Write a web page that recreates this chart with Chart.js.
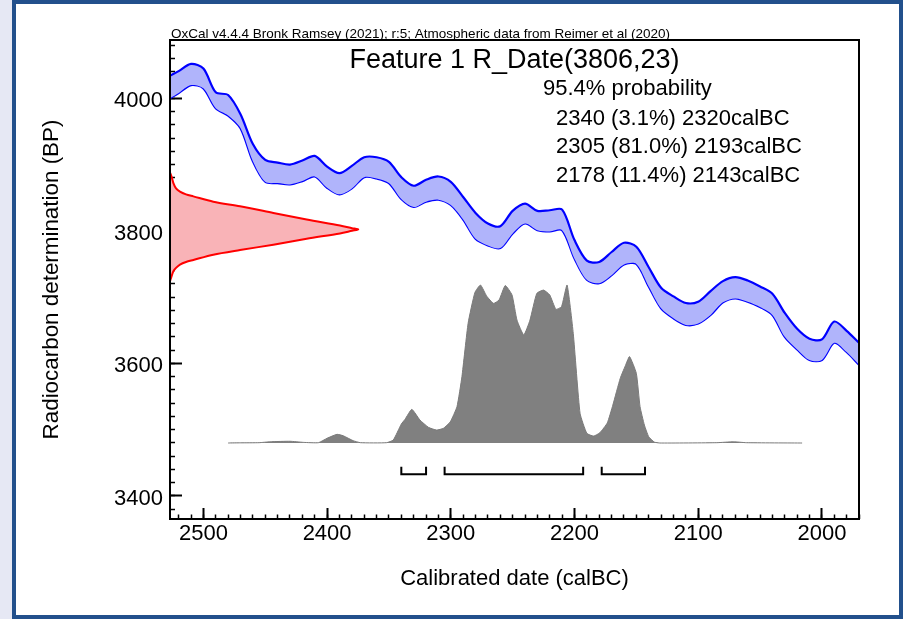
<!DOCTYPE html>
<html>
<head>
<meta charset="utf-8">
<script src="https://cdn.jsdelivr.net/npm/chart.js@4.4.1/dist/chart.umd.min.js"></script>
<style>
  html, body { margin: 0; padding: 0; width: 903px; height: 619px; overflow: hidden; background: #e6e8f4; }
  #frame { position: absolute; left: 12px; top: 0; width: 891px; height: 619px; box-sizing: border-box; border: 4px solid #22508c; background: #fff; }
  #c { position: absolute; left: 0; top: 0; }
</style>
</head>
<body>
<div id="frame"></div>
<canvas id="c" width="903" height="619"></canvas>
<script>
// calibration curve band (IntCal20), calBC vs BP
const calYears = [2527, 2520, 2510, 2500, 2490, 2480, 2470, 2460, 2450, 2440, 2430, 2420, 2410, 2400, 2390, 2380, 2370, 2360, 2350, 2340,
  2330, 2320, 2310, 2300, 2290, 2280, 2270, 2260, 2250, 2240, 2230, 2220, 2210, 2200, 2190, 2180, 2170, 2160, 2150, 2140,
  2130, 2120, 2110, 2100, 2090, 2080, 2070, 2060, 2050, 2040, 2030, 2020, 2010, 2000, 1990, 1980, 1970];
const curveUpper = [4034, 4041, 4052, 4045, 4009, 4005, 3976, 3931, 3907, 3903, 3900, 3906, 3913, 3897, 3887, 3898, 3911, 3911, 3904, 3881,
  3868, 3877, 3882, 3874, 3851, 3827, 3811, 3807, 3830, 3841, 3830, 3831, 3832, 3786, 3755, 3753, 3768, 3782, 3776, 3745,
  3714, 3701, 3691, 3693, 3709, 3724, 3730, 3725, 3716, 3705, 3676, 3652, 3637, 3636, 3663, 3649, 3631];
const curveLower = [4000, 4008, 4020, 4015, 3985, 3974, 3955, 3905, 3874, 3872, 3870, 3875, 3882, 3865, 3855, 3864, 3881, 3879, 3872, 3848,
  3836, 3844, 3847, 3839, 3817, 3788, 3778, 3774, 3796, 3811, 3801, 3799, 3801, 3758, 3726, 3721, 3733, 3749, 3750, 3716,
  3683, 3668, 3658, 3660, 3673, 3692, 3698, 3693, 3685, 3673, 3640, 3621, 3605, 3605, 3631, 3617, 3598];

// radiocarbon measurement (red, on the BP axis)
const rcMean = 3806;
const rcSigma = 23;
const rcBP = [3888, 3881, 3872, 3864, 3859, 3855, 3852, 3844, 3837, 3827, 3817, 3808, 3804, 3802,
  3800, 3796, 3788, 3779, 3771, 3764, 3756, 3753, 3749, 3744, 3739, 3732, 3724];
const rcDensity = [0, 0.009, 0.018, 0.032, 0.053, 0.085, 0.124, 0.23, 0.372, 0.549, 0.726, 0.903, 0.967, 1,
  0.967, 0.903, 0.726, 0.549, 0.372, 0.23, 0.124, 0.085, 0.053, 0.032, 0.018, 0.009, 0];

// calibrated probability (grey)
const postYears = [2480, 2470, 2455, 2446, 2430, 2419, 2407, 2400, 2392, 2387, 2379, 2373, 2352, 2346.5, 2340, 2337, 2331.5, 2325,
  2318, 2311.5, 2306, 2300.5, 2295, 2291, 2286, 2280.5, 2276, 2271, 2265.5, 2261, 2256, 2250.5, 2246.5, 2241, 2236,
  2230.5, 2225, 2220, 2215, 2210.5, 2206, 2201, 2195.5, 2190, 2184.5, 2179.5, 2173.5, 2169, 2163, 2159, 2155.5, 2150,
  2147, 2143.5, 2140, 2135.5, 2131, 2085, 2071.5, 2061, 2016];
const postDensity = [0, 0.001, 0.002, 0.008, 0.011, 0.004, 0.002, 0.03, 0.055, 0.046, 0.015, 0.002, 0.002, 0.019, 0.12, 0.15, 0.213, 0.146,
  0.099, 0.082, 0.093, 0.133, 0.23, 0.42, 0.758, 0.953, 1, 0.93, 0.884, 0.905, 0.997, 0.937, 0.778, 0.684, 0.778,
  0.947, 0.968, 0.937, 0.846, 0.863, 1, 0.694, 0.188, 0.061, 0.044, 0.065, 0.127, 0.24, 0.41, 0.487, 0.547, 0.441,
  0.23, 0.114, 0.04, 0.006, 0, 0.002, 0.008, 0.002, 0];

// 95.4% ranges
const rangeStart = [2340, 2305, 2178];
const rangeEnd = [2320, 2193, 2143];
const rangePct = [3.1, 81.0, 11.4];

const xTickValues = [2500, 2400, 2300, 2200, 2100, 2000];
const yTickValues = [4000, 3800, 3600, 3400];

const FONT = '"Liberation Sans", Arial, Helvetica, sans-serif';
const header = 'OxCal v4.4.4 Bronk Ramsey (2021); r:5; Atmospheric data from Reimer et al (2020)';
const title = `Feature 1 R_Date(${rcMean},${rcSigma})`;

const pairs = (xs, ys) => xs.map((x, i) => ({ x: x, y: ys[i] }));

const bracketPts = [];
rangeStart.forEach((s, i) => {
  const e = rangeEnd[i];
  bracketPts.push({ x: s, y: -0.15 }, { x: s, y: -0.197 }, { x: e, y: -0.197 }, { x: e, y: -0.15 }, { x: e, y: null });
});

function everyStep(from, to, step) {
  const out = [];
  for (let v = from; v <= to; v += step) out.push({ value: v });
  return out;
}

const tickGrid = (len, w) => ({ drawOnChartArea: false, drawTicks: true, tickLength: len, tickWidth: w, tickColor: '#000' });

const decor = {
  id: 'decor',
  afterDraw(chart) {
    const { ctx, chartArea: a } = chart;
    ctx.save();
    ctx.strokeStyle = '#000';
    ctx.lineWidth = 2;
    ctx.strokeRect(a.left, a.top, a.right - a.left, a.bottom - a.top);
    ctx.fillStyle = '#000';
    ctx.textBaseline = 'alphabetic';
    ctx.textAlign = 'left';
    ctx.font = `13.5px ${FONT}`;
    ctx.fillText(header, a.left + 1, a.top - 2.5);
    ctx.textAlign = 'center';
    ctx.font = `27px ${FONT}`;
    ctx.fillText(title, (a.left + a.right) / 2, a.top + 28);
    ctx.textAlign = 'left';
    ctx.font = `22px ${FONT}`;
    ctx.fillText('95.4% probability', 543, 95);
    rangeStart.forEach((s, i) => {
      ctx.fillText(`${s} (${rangePct[i].toFixed(1)}%) ${rangeEnd[i]}calBC`, 556, 124.5 + i * 28.8);
    });
    ctx.restore();
  }
};

new Chart(document.getElementById('c'), {
  type: 'line',
  data: {
    datasets: [
      {
        data: pairs(calYears, curveUpper),
        borderColor: '#0000ff', borderWidth: 2.2, backgroundColor: '#b0b4fb',
        fill: '+1', pointRadius: 0, tension: 0.3
      },
      {
        data: pairs(calYears, curveLower),
        borderColor: '#0000ff', borderWidth: 2.2,
        fill: false, pointRadius: 0, tension: 0.3
      },
      {
        data: pairs(postYears, postDensity),
        yAxisID: 'yp',
        borderColor: '#7a7a7a', borderWidth: 1, backgroundColor: '#808080',
        fill: 'origin', pointRadius: 0, tension: 0.15
      },
      {
        data: rcDensity.map((d, i) => ({ x: d, y: rcBP[i] })),
        indexAxis: 'y', xAxisID: 'xr', yAxisID: 'y',
        borderColor: '#ff0000', borderWidth: 2, backgroundColor: '#f9b3b7',
        fill: 'origin', pointRadius: 0, tension: 0.3
      },
      {
        data: bracketPts,
        yAxisID: 'yp',
        borderColor: '#000', borderWidth: 2, fill: false, pointRadius: 0, tension: 0, spanGaps: false
      }
    ]
  },
  options: {
    responsive: false,
    devicePixelRatio: 1,
    animation: false,
    events: [],
    layout: { padding: { left: 0, top: 40, right: 44, bottom: 0 } },
    plugins: { legend: { display: false }, tooltip: { enabled: false } },
    scales: {
      x: {
        type: 'linear', position: 'bottom', reverse: true, min: 1970, max: 2527, weight: 1, z: 1,
        afterFit: s => { s.height = 100; },
        afterBuildTicks: s => { s.ticks = xTickValues.map(v => ({ value: v })); },
        grid: tickGrid(-11, 2),
        border: { display: false },
        ticks: { autoSkip: false, maxRotation: 0, padding: 12.5, color: '#000', font: { family: FONT, size: 22 }, callback: v => String(v) },
        title: { display: true, text: 'Calibrated date (calBC)', color: '#000', font: { family: FONT, size: 22 }, padding: { top: 0, bottom: 27 } }
      },
      x2: {
        type: 'linear', position: 'bottom', reverse: true, min: 1970, max: 2527, weight: 0, z: 1,
        afterFit: s => { s.height = 0; },
        afterBuildTicks: s => { s.ticks = everyStep(1970, 2520, 10); },
        grid: tickGrid(-4.5, 1.5),
        border: { display: false },
        ticks: { display: false, autoSkip: false }
      },
      y: {
        type: 'linear', position: 'left', min: 3365, max: 4088, weight: 1, z: 1,
        afterFit: s => { s.width = 170; },
        afterBuildTicks: s => { s.ticks = yTickValues.map(v => ({ value: v })); },
        grid: tickGrid(-12, 2),
        border: { display: false },
        ticks: { autoSkip: false, padding: 19, labelOffset: 3, color: '#000', font: { family: FONT, size: 22 }, callback: v => String(v) },
        title: { display: true, text: 'Radiocarbon determination (BP)', color: '#000', font: { family: FONT, size: 22.4 }, padding: { top: 38, bottom: 0 } }
      },
      y2: {
        type: 'linear', position: 'left', min: 3365, max: 4088, weight: 0, z: 1,
        afterFit: s => { s.width = 0; },
        afterBuildTicks: s => { s.ticks = everyStep(3380, 4080, 20); },
        grid: tickGrid(-5, 1.5),
        border: { display: false },
        ticks: { display: false, autoSkip: false }
      },
      xr: { type: 'linear', display: false, min: 0, max: 3.66 },
      yp: { type: 'linear', display: false, min: -0.481, max: 2.551 }
    }
  },
  plugins: [decor]
});
</script>
</body>
</html>
